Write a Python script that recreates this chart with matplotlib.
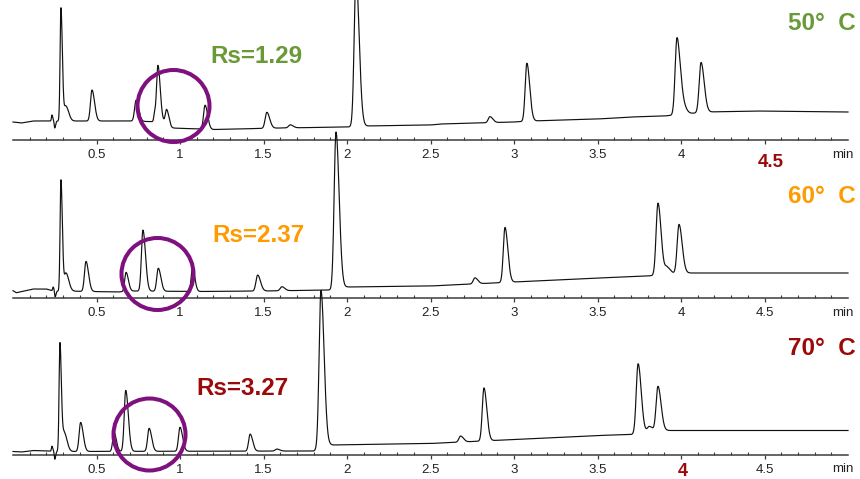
import numpy as np
import matplotlib.pyplot as plt
from matplotlib.patches import Ellipse

plt.rcParams['font.family'] = ['Liberation Sans', 'DejaVu Sans']

# ---- retention-time grid (min) ----
t = np.linspace(0.0, 5.0, 5001)

# ---- 50 °C run: peak table (retention time, height above baseline, width) ----
rt50 = [0.233, 0.250, 0.287, 0.316, 0.473, 0.737, 0.848, 0.868, 0.920, 1.150,
        1.520, 1.660, 2.054, 2.856, 3.077, 3.976, 4.010, 4.120]
h50 = [6, -7, 113, 15, 31, 21, 8, 56, 15, 24,
       16, 3, 150, 6, 58, 77, 9, 50]
w50 = [0.003, 0.003, 0.005, 0.010, 0.009, 0.009, 0.005, 0.008, 0.008, 0.009,
       0.010, 0.010, 0.011, 0.010, 0.010, 0.011, 0.012, 0.011]
# baseline knots
bt50 = [0.0, 0.05, 0.12, 0.2, 0.7, 0.90, 0.95, 1.2, 1.6, 2.0, 2.1, 2.5, 2.56,
        3.0, 3.1, 3.5, 3.7, 3.9, 4.15, 4.45, 5.0]
by50 = [18, 17, 19, 19, 19, 18, 12, 10.5, 12, 13, 14, 15, 16,
        18, 19, 21, 23, 24, 28, 29, 28]

# ---- 60 °C run ----
rt60 = [0.240, 0.252, 0.287, 0.317, 0.437, 0.677, 0.778, 0.870, 1.075, 1.465,
        1.610, 1.934, 2.766, 2.946, 3.862, 3.916, 3.988]
h60 = [4, -6, 111, 18, 30, 19, 61, 23, 24, 16,
       4, 157, 6, 55, 72, 7, 49]
w60 = [0.003, 0.003, 0.005, 0.010, 0.009, 0.008, 0.009, 0.009, 0.008, 0.010,
       0.010, 0.011, 0.010, 0.010, 0.011, 0.012, 0.011]
bt60 = [0.0, 0.02, 0.12, 0.2, 0.24, 0.3, 0.63, 0.7, 1.1, 1.5, 1.9, 2.0, 2.5,
        3.0, 3.5, 3.8, 4.02, 5.0]
by60 = [7.3, 5.3, 9, 9, 7, 7, 6, 7, 6.5, 7, 8, 11, 12,
        16, 20, 22, 25, 25]

# ---- 70 °C run ----
rt70 = [0.233, 0.250, 0.281, 0.306, 0.405, 0.605, 0.675, 0.815, 1.000, 1.420,
        1.580, 1.844, 2.680, 2.820, 3.743, 3.810, 3.862]
h70 = [5, -8, 108, 19, 29, 19, 61, 23, 24, 17,
       2, 158, 6, 53, 70, 6, 45]
w70 = [0.003, 0.003, 0.005, 0.010, 0.009, 0.008, 0.009, 0.009, 0.009, 0.009,
       0.010, 0.011, 0.010, 0.010, 0.011, 0.012, 0.011]
bt70 = [0.0, 0.05, 0.12, 0.2, 0.3, 1.8, 1.9, 2.5, 3.0, 3.5, 3.7, 3.92, 5.0]
by70 = [3, 2.5, 4, 3.5, 3, 3.5, 9.5, 11, 15, 19, 20, 24, 24]

runs = [(rt50, h50, w50, bt50, by50),
        (rt60, h60, w60, bt60, by60),
        (rt70, h70, w70, bt70, by70)]

temp_labels = ['50°  C', '60°  C', '70°  C']
rs_labels = ['Rs=1.29', 'Rs=2.37', 'Rs=3.27']
label_colors = ['#6a9a38', '#ff9a00', '#9a0a0a']
major_ticks = [0.5, 1, 1.5, 2, 2.5, 3, 3.5, 4, 4.5]
major_labels = ['0.5', '1', '1.5', '2', '2.5', '3', '3.5', '4', '4.5']


def chromatogram(rt, h, w, bt, by):
    y = np.interp(t, bt, by)
    for r, a, s in zip(rt, h, w):
        sig = np.where(t < r, s, 1.7 * s)
        y = y + a * np.exp(-0.5 * ((t - r) / sig) ** 2)
    return y


W, H = 860, 479
fig = plt.figure(figsize=(W / 100, H / 100), dpi=100)
fig.patch.set_facecolor('white')

x_left, x_right = 13, 848
px_per_min = (x_right - x_left) / 5.0
axis_rows = [140, 298, 454.5]
panel_h = 130

# circles (centre in px, radius in px)
circles = [(173.5, 106), (157.5, 274), (149.5, 434.5)]
circle_r = 36

# text anchors (left/right px, baseline px)
rs_pos = [(210, 63), (212, 242), (196, 395)]
temp_pos = [(856, 30), (856, 203), (856, 355)]

for i, (row, run) in enumerate(zip(axis_rows, runs)):
    ax = fig.add_axes([x_left / W, 1 - row / H, (x_right - x_left) / W, panel_h / H])
    ax.set_xlim(0, 5)
    ax.set_ylim(0, panel_h)
    ax.patch.set_visible(False)
    for s in ['top', 'left', 'right']:
        ax.spines[s].set_visible(False)
    ax.spines['bottom'].set_color('#3c3c3c')
    ax.spines['bottom'].set_linewidth(1.1)
    ax.set_yticks([])

    labels = list(major_labels)
    if i == 0:
        labels[8] = ''
    if i == 2:
        labels[7] = ''
    ax.set_xticks(major_ticks)
    ax.set_xticklabels(labels)
    ax.set_xticks([m / 10 for m in range(1, 50) if m % 5], minor=True)
    ax.tick_params(axis='x', which='major', direction='out', length=3.2,
                   width=0.9, color='#3c3c3c', pad=3.5, labelsize=9.5,
                   labelcolor='#222222')
    ax.tick_params(axis='x', which='minor', direction='in', length=2.3,
                   width=0.8, color='#3c3c3c')

    y = chromatogram(*run)
    ax.plot(t, y, color='#111111', lw=0.85, clip_on=False, zorder=3)

    cx, cy = circles[i]
    ax.add_patch(Ellipse(((cx - x_left) / px_per_min, row - cy),
                         width=2 * circle_r / px_per_min, height=2 * circle_r,
                         fill=False, edgecolor='#7e117e', lw=2.9,
                         clip_on=False, zorder=4))

    fig.text(rs_pos[i][0] / W, 1 - rs_pos[i][1] / H, rs_labels[i],
             color=label_colors[i], fontsize=17.5, fontweight='bold',
             ha='left', va='baseline')
    fig.text(temp_pos[i][0] / W, 1 - temp_pos[i][1] / H, temp_labels[i],
             color=label_colors[i], fontsize=17.5, fontweight='bold',
             ha='right', va='baseline')
    fig.text(843 / W, 1 - (row + 17.5) / H, 'min', color='#222222',
             fontsize=9.5, ha='center', va='baseline')

fig.text(758 / W, 1 - 167 / H, '4.5', color='#9a0a0a', fontsize=13.5,
         fontweight='bold', ha='left', va='baseline')
fig.text(678 / W, 1 - 476 / H, '4', color='#9a0a0a', fontsize=13,
         fontweight='bold', ha='left', va='baseline')

fig.savefig('out.png', dpi=100, facecolor='white')
